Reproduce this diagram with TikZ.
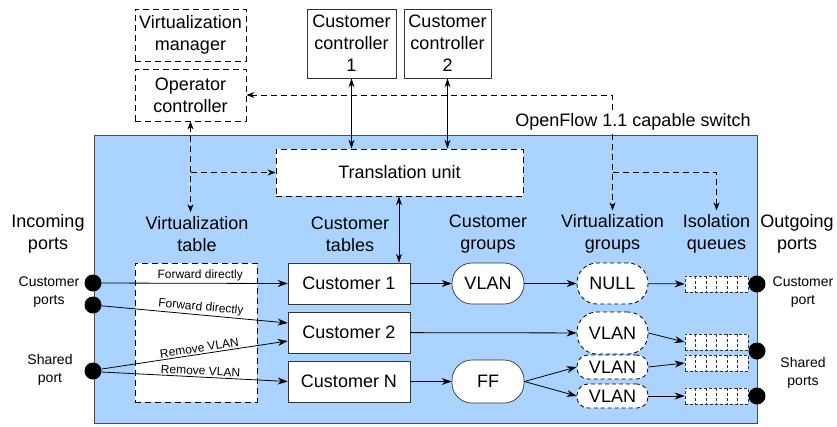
\documentclass[tikz,border=0pt]{standalone}
\usepackage{fontspec}
\setmainfont{Liberation Sans}
\usetikzlibrary{arrows.meta,calc}
\definecolor{switchblue}{RGB}{170,212,255}
\tikzset{
  base/.style={font=\fontsize{18}{22}\selectfont, align=center, inner sep=0pt},
  solidbox/.style={base, draw=black!80, line width=0.7pt, fill=white},
  dashbox/.style={base, draw=black, line width=0.8pt, dash pattern=on 6pt off 4pt, fill=white},
  pill/.style={solidbox, rounded corners=#1},
  dashpill/.style={dashbox, rounded corners=#1, dash pattern=on 4pt off 3pt},
  header/.style={base, inner sep=4pt},
  portdot/.style={circle, fill=black, minimum size=17pt, inner sep=0pt},
  portlbl/.style={font=\fontsize{14}{18}\selectfont, align=center, inner sep=0pt},
  queue/.style={draw=black!80, line width=0.7pt, dash pattern=on 3pt off 2pt, fill=white,
                minimum width=63pt, minimum height=16pt, inner sep=0pt},
  flow/.style={line width=0.8pt, -{Stealth[length=10pt,width=7pt]}},
  flowboth/.style={line width=0.8pt, {Stealth[length=9pt,width=6pt]}-{Stealth[length=9pt,width=6pt]}},
  ctrl/.style={line width=0.8pt, dash pattern=on 6pt off 4pt, -{Stealth[length=8pt,width=6pt]}},
  ctrlboth/.style={line width=0.8pt, dash pattern=on 6pt off 4pt,
                   {Stealth[length=8pt,width=6pt]}-{Stealth[length=8pt,width=6pt]}},
  elabel/.style={font=\fontsize{12}{14}\selectfont, inner sep=1.5pt},
}
\begin{document}
\begin{tikzpicture}[x=1pt,y=-1pt]
\useasboundingbox (0,0) rectangle (837,426);

% switch body
\fill[switchblue] (94,135) rectangle (757,423);
\draw[black!70, line width=0.8pt] (94,135) rectangle (757,423);

% controllers above the switch
\node[dashbox, minimum width=111pt, minimum height=52pt] (vm) at (190.5,35) {Virtualization\\manager};
\node[dashbox, minimum width=111pt, minimum height=52pt] (oc) at (190.5,95) {Operator\\controller};
\node[solidbox, minimum width=89pt, minimum height=69pt] (cc1) at (351.5,43.5) {Customer\\controller\\1};
\node[solidbox, minimum width=87pt, minimum height=69pt] (cc2) at (447.5,43.5) {Customer\\controller\\2};

% translation unit
\node[dashbox, minimum width=247pt, minimum height=47pt] (tu) at (399.5,172.5) {Translation unit};

% column headers
\node[header] (ih)  at (48,234)  {Incoming\\ports};
\node[header] (vth) at (197,234) {Virtualization\\table};
\node[header] (cth) at (350,234) {Customer\\tables};
\node[header] (cgh) at (488,234) {Customer\\groups};
\node[header] (vgh) at (612.5,234) {Virtualization\\groups};
\node[header] (qh)  at (716.5,234) {Isolation\\queues};
\node[header] (oh)  at (797,234) {Outgoing\\ports};

% virtualization table
\node[dashbox, minimum width=122pt, minimum height=139pt] (vt) at (196,332.5) {};

% customer tables
\node[solidbox, minimum width=122pt, minimum height=41pt] (c1) at (349,283.5) {Customer 1};
\node[solidbox, minimum width=122pt, minimum height=41pt] (c2) at (349,332.5) {Customer 2};
\node[solidbox, minimum width=122pt, minimum height=41pt] (cN) at (349,381.5) {Customer N};

% customer groups
\node[pill=20pt, minimum width=72pt, minimum height=41pt] (g1) at (488,283.5) {VLAN};
\node[pill=20pt, minimum width=72pt, minimum height=43pt] (g2) at (488,381.5) {FF};

% virtualization groups
\node[dashpill=20pt, minimum width=71pt, minimum height=41pt] (v1) at (612.5,283.5) {NULL};
\node[dashpill=20pt, minimum width=71pt, minimum height=42pt] (v2) at (612.5,333) {VLAN};
\node[dashpill=11pt, minimum width=71pt, minimum height=24pt] (v3) at (612.5,367) {VLAN};
\node[dashpill=11pt, minimum width=71pt, minimum height=24pt] (v4) at (612.5,396) {VLAN};

% isolation queues, six slots each
\node[queue] (q1) at (716.5,284) {};
\node[queue] (q2) at (716.5,342) {};
\node[queue] (q3) at (716.5,363) {};
\node[queue] (q4) at (716.5,396) {};
\foreach \q in {q1,q2,q3,q4}{
  \foreach \i in {1,...,5}{
    \draw[black!80, line width=0.7pt, dash pattern=on 3pt off 2pt]
      ($(\q.north west)!\i/6!(\q.north east)$) -- ($(\q.south west)!\i/6!(\q.south east)$);
  }
}

% incoming ports
\node[portdot] (pi1) at (93,283) {};
\node[portdot] (pi2) at (93,305) {};
\node[portdot] (ps)  at (93,371) {};
\node[portlbl] (pil) at (49,292.5) {Customer\\ports};
\node[portlbl] (psl) at (50,370) {Shared\\port};

% outgoing ports
\node[portdot] (po1) at (757,284) {};
\node[portdot] (po2) at (757,351) {};
\node[portdot] (po3) at (757,396) {};
\node[portlbl] (pol) at (803,292.5) {Customer\\port};
\node[portlbl] (pos) at (803,373) {Shared\\ports};

% controller channels
\draw[flowboth] (cc1.south) -- (cc1.south |- tu.north);
\draw[flowboth] (cc2.south) -- (cc2.south |- tu.north);
\draw[flowboth] (tu.south -| 399,0) -- (c1.north -| 399,0);

% operator controller channels
\draw[ctrlboth] (oc.south) -- (oc.south |- vth.north);
\draw[ctrl] (oc.south |- tu.west) -- (tu.west);
\draw[ctrlboth] (oc.east) -| (vgh.north);
\draw[ctrl] (vgh.north |- tu.east) -| (qh.north);

% switch caption
\node[base, fill=white, inner sep=2pt] (sw) at (633,122) {OpenFlow 1.1 capable switch};

% packet paths through the virtualization table
\draw[flow] (pi1) -- (c1.west) node[elabel, above, pos=0.53] {Forward directly};
\draw[flow] (pi2) -- ([yshift=9.5pt]c2.west) node[elabel, above, sloped, pos=0.53] {Forward directly};
\draw[flow] ([yshift=2pt]ps.east) -- ([yshift=-8.5pt]c2.west) node[elabel, above, sloped, pos=0.53] {Remove VLAN};
\draw[flow] ([yshift=-1pt]ps.east) -- (cN.west) node[elabel, above, sloped, pos=0.53] {Remove VLAN};

% group chains
\draw[flow] (c1) -- (g1);
\draw[flow] (g1) -- (v1);
\draw[flow] (v1) -- (q1);
\draw[flow] (c2) -- (v2);
\draw[flow] (v2.east) -- (q2.west);
\draw[flow] (cN) -- (g2);
\draw[flow] (g2.east) -- (v3.west);
\draw[flow] (g2.east) -- (v4.west);
\draw[flow] (v3.east) -- (q3.west);
\draw[flow] (v4) -- (q4);
\end{tikzpicture}
\end{document}
